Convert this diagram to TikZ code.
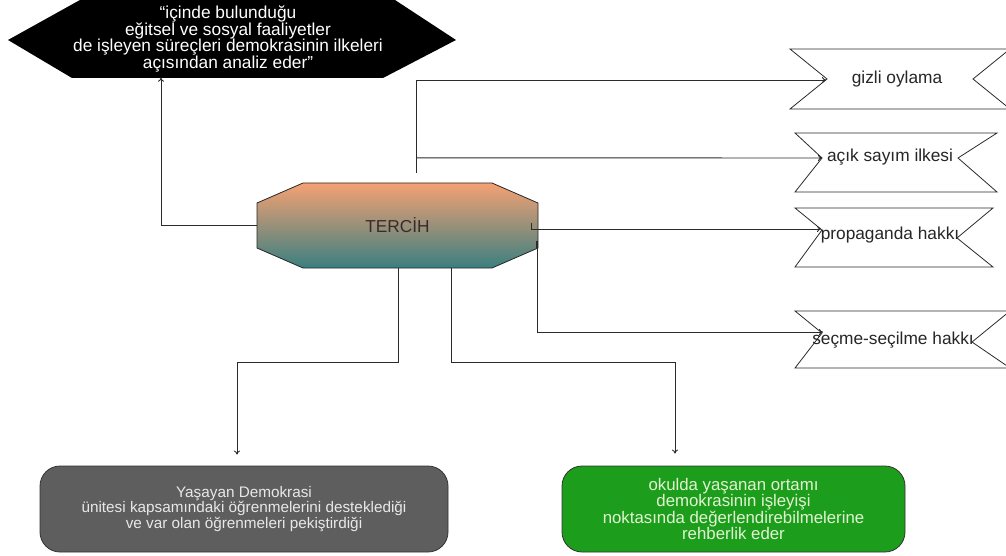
\documentclass[tikz,border=0pt]{standalone}
\usepackage{fontspec}
\setmainfont{Liberation Sans}
\usetikzlibrary{arrows.meta,calc}

\definecolor{lineclr}{HTML}{2B2B2B}
\definecolor{octtop}{HTML}{F5A173}
\definecolor{octbot}{HTML}{3A7F80}
\definecolor{octtxt}{HTML}{3A2A2A}
\definecolor{grayfill}{HTML}{5E5E5E}
\definecolor{graytxt}{HTML}{E8E8E8}
\definecolor{greenfill}{HTML}{1C9E1C}
\definecolor{greentxt}{HTML}{E2F3D2}

\begin{document}
\begin{tikzpicture}[x=1pt,y=-1pt,
  conn/.style={draw=lineclr, line width=0.9pt},
  arr/.style={conn, -{To[length=4pt,width=6pt]}},
  lbl/.style={font=\fontsize{17.3}{16.5}\selectfont, align=center, inner sep=0pt},
  bow/.style={draw=lineclr, line width=0.8pt, fill=white},
  roundbox/.style={draw=black!80, line width=0.8pt, rounded corners=20pt, inner sep=0pt}
]
\useasboundingbox (0,0) rectangle (1006,556);

% black hexagon with the goal statement
\fill[black] (8,40) -- (80,0) -- (395,0) -- (456,40) -- (383,78) -- (72,78) -- cycle;
\node[lbl, text=white, minimum height=77pt] (hex) at (228,39)
  {“içinde bulunduğu\\eğitsel ve sosyal faaliyetler\\de işleyen süreçleri demokrasinin ilkeleri\\açısından analiz eder”};

% central octagon
\shade[top color=octtop, bottom color=octbot, draw=black!85, line width=0.8pt]
  (257,203) -- (303,183) -- (492,183) -- (538,203) -- (538,248) -- (492,268) -- (303,268) -- (257,248) -- cycle;
\node[lbl, text=octtxt, minimum width=281pt, minimum height=85pt] (tercih) at (397.5,225.5) {TERCİH};

% notched boxes on the right
\draw[bow] (790,49) -- (1010,49) -- (973,79) -- (1010,109) -- (790,109) -- (827,79) -- cycle;
\draw[bow] (795,133) -- (997,133) -- (958,158) -- (997,192) -- (795,192) -- (822,158) -- cycle;
\draw[bow] (795,208) -- (993,208) -- (957,238) -- (993,267) -- (795,267) -- (822,230) -- cycle;
\draw[bow] (795,311) -- (1010,311) -- (972,342) -- (1010,368) -- (795,368) -- (822,333) -- cycle;

\node[lbl, text=black!85] (gizli) at (897,79) {gizli oylama};
\node[lbl, text=black!85] (acik) at (890,157) {açık sayım ilkesi};
\node[lbl, text=black!85] (prop) at (890,235) {propaganda hakkı};
\node[lbl, text=black!85] (secme) at (893,340) {seçme-seçilme hakkı};

\coordinate (gizliL) at (826,80);
\coordinate (acikL) at (822,158);
\coordinate (propL) at (821,229);
\coordinate (secmeL) at (823,332);

% rounded boxes at the bottom
\node[roundbox, fill=grayfill, text=graytxt, lbl, font=\fontsize{15.3}{15.7}\selectfont,
      minimum width=408pt, minimum height=86pt] (gray) at (244,509)
  {Yaşayan Demokrasi\\ünitesi kapsamındaki öğrenmelerini desteklediği\\ve var olan öğrenmeleri pekiştirdiği};
\node[roundbox, fill=greenfill, text=greentxt, lbl, font=\fontsize{16.8}{16.2}\selectfont,
      minimum width=343pt, minimum height=86pt] (green) at (733.5,509)
  {okulda yaşanan ortamı\\demokrasinin işleyişi\\noktasında değerlendirebilmelerine\\rehberlik eder};

% connectors
\draw[arr] (tercih.west) -| ($(hex.south)+(-67,0)$);
\draw[arr] ($(tercih.north)+(18.5,-10)$) |- (gizliL);
\draw[arr] ($(tercih.north)+(18.5,-25)$) -- (acikL);
\draw[arr] ($(tercih.east)+(-7,-3)$) |- (propL);
\draw[line width=1.8pt, lineclr] ($(tercih.east)+(-1,15)$) -- ++(0,7);
\draw[arr] ($(tercih.east)+(-1,15)$) |- (secmeL);
\draw[arr, shorten >=11pt] ($(tercih.south)+(0.5,0)$) -- ++(0,94) -| ($(gray.north)+(-7,0)$);
\draw[arr, shorten >=12pt] ($(tercih.south)+(53.5,0)$) -- ++(0,94) -| ($(green.north)+(-58.5,0)$);
\end{tikzpicture}
\end{document}
